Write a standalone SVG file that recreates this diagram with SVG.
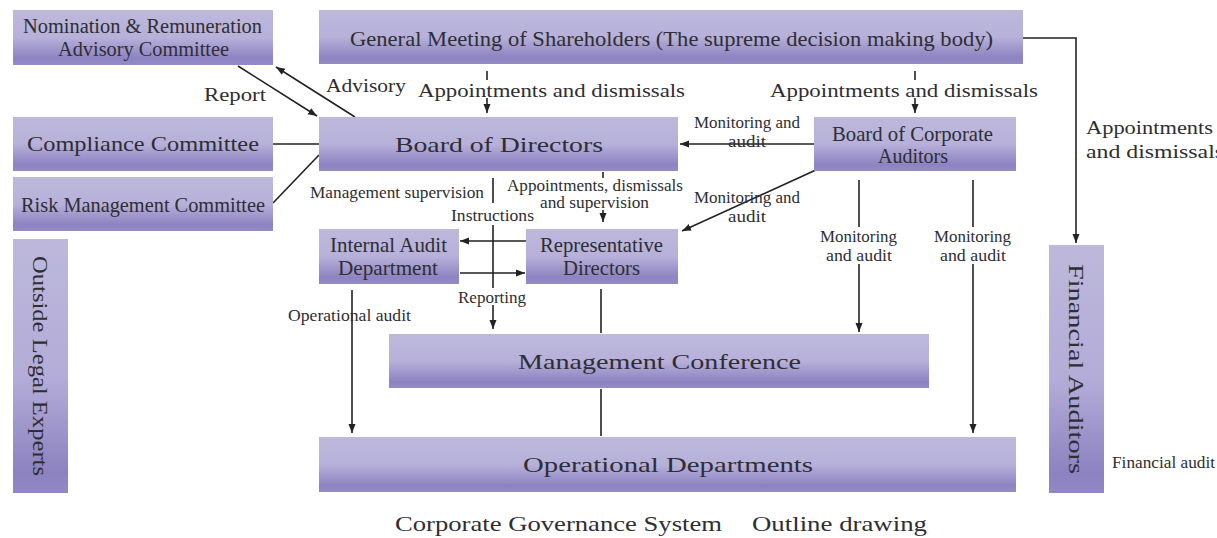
<svg xmlns="http://www.w3.org/2000/svg" width="1217" height="538" viewBox="0 0 1217 538">
<style>
.box{fill:url(#g);}
.vbox{fill:url(#gv);}
text{font-family:"Liberation Serif","DejaVu Serif",serif;fill:#2e2e33;}
.s{font-size:19px;}
.xs{font-size:17px;}
.ln{stroke:#222;stroke-width:1.6;fill:none;}
.ar{stroke:#222;stroke-width:1.6;fill:none;marker-end:url(#ah);}
</style>
<defs>
<linearGradient id="g" x1="0" y1="0" x2="0" y2="1">
<stop offset="0" stop-color="#bdb8db"/>
<stop offset="0.5" stop-color="#b7b1da"/>
<stop offset="0.88" stop-color="#8d83c1"/>
<stop offset="1" stop-color="#958bc5"/>
</linearGradient>
<linearGradient id="gv" x1="0" y1="0" x2="0" y2="1">
<stop offset="0" stop-color="#bdb8db"/>
<stop offset="0.55" stop-color="#b3acd8"/>
<stop offset="0.92" stop-color="#8c82c0"/>
<stop offset="1" stop-color="#9188c4"/>
</linearGradient>
<marker id="ah" markerUnits="userSpaceOnUse" markerWidth="10" markerHeight="10" refX="9" refY="5" orient="auto">
<path d="M0,1.5 L9,5 L0,8.5 Z" fill="#222"/>
</marker>
</defs>

<g id="connectors">
<line class="ar" x1="238" y1="66" x2="317" y2="116"/>
<line class="ar" x1="355" y1="117" x2="276" y2="67"/>
<line class="ln" x1="273" y1="144" x2="319" y2="144"/>
<line class="ln" x1="273" y1="203" x2="319" y2="155"/>
<line class="ln" x1="487" y1="71" x2="487" y2="80"/>
<line class="ar" x1="487" y1="98" x2="487" y2="113"/>
<line class="ln" x1="915" y1="71" x2="915" y2="80"/>
<line class="ar" x1="915" y1="98" x2="915" y2="113"/>
<polyline class="ar" points="1023,38 1076,38 1076,243"/>
<line class="ar" x1="814" y1="144" x2="680" y2="144"/>
<line class="ar" x1="818" y1="169" x2="682" y2="231"/>
<line class="ln" x1="859" y1="180" x2="859" y2="227"/>
<line class="ar" x1="859" y1="264" x2="859" y2="332"/>
<line class="ln" x1="973" y1="180" x2="973" y2="227"/>
<line class="ar" x1="973" y1="264" x2="973" y2="433"/>
<line class="ln" x1="493" y1="178" x2="493" y2="203"/>
<line class="ln" x1="493" y1="225" x2="493" y2="288"/>
<line class="ar" x1="493" y1="305" x2="493" y2="329"/>
<line class="ln" x1="603" y1="172" x2="603" y2="178"/>
<line class="ar" x1="603" y1="210" x2="603" y2="222"/>
<line class="ar" x1="526" y1="241" x2="460" y2="241"/>
<line class="ar" x1="460" y1="273" x2="525" y2="273"/>
<line class="ln" x1="601" y1="289" x2="601" y2="333"/>
<line class="ln" x1="601" y1="389" x2="601" y2="436"/>
<line class="ar" x1="352" y1="290" x2="352" y2="433"/>
</g>

<g id="labels">
<text class="s" x="326" y="92" textLength="80" lengthAdjust="spacingAndGlyphs">Advisory</text>
<text class="s" x="204" y="101" textLength="62" lengthAdjust="spacingAndGlyphs">Report</text>
<text class="s" x="418" y="97" textLength="267" lengthAdjust="spacingAndGlyphs">Appointments and dismissals</text>
<text class="s" x="770" y="97" textLength="268" lengthAdjust="spacingAndGlyphs">Appointments and dismissals</text>
<text class="s" x="1086" y="134" textLength="127" lengthAdjust="spacingAndGlyphs">Appointments</text>
<text class="s" x="1086" y="158" textLength="138" lengthAdjust="spacingAndGlyphs">and dismissals</text>
<text class="xs" x="694" y="128" textLength="106" lengthAdjust="spacingAndGlyphs">Monitoring and</text>
<text class="xs" x="728" y="147" textLength="38" lengthAdjust="spacingAndGlyphs">audit</text>
<text class="xs" x="694" y="203" textLength="106" lengthAdjust="spacingAndGlyphs">Monitoring and</text>
<text class="xs" x="728" y="222" textLength="38" lengthAdjust="spacingAndGlyphs">audit</text>
<text class="xs" x="820" y="242" textLength="77" lengthAdjust="spacingAndGlyphs">Monitoring</text>
<text class="xs" x="826" y="261" textLength="66" lengthAdjust="spacingAndGlyphs">and audit</text>
<text class="xs" x="934" y="242" textLength="77" lengthAdjust="spacingAndGlyphs">Monitoring</text>
<text class="xs" x="940" y="261" textLength="66" lengthAdjust="spacingAndGlyphs">and audit</text>
<text class="xs" x="310" y="198" textLength="174" lengthAdjust="spacingAndGlyphs">Management supervision</text>
<text class="xs" x="507" y="191" textLength="176" lengthAdjust="spacingAndGlyphs">Appointments, dismissals</text>
<text class="xs" x="540" y="208" textLength="109" lengthAdjust="spacingAndGlyphs">and supervision</text>
<text class="xs" x="451" y="221" textLength="83" lengthAdjust="spacingAndGlyphs">Instructions</text>
<text class="xs" x="458" y="303" textLength="68" lengthAdjust="spacingAndGlyphs">Reporting</text>
<text class="xs" x="288" y="321" textLength="123" lengthAdjust="spacingAndGlyphs">Operational audit</text>
<text class="xs" x="1112" y="468" textLength="103" lengthAdjust="spacingAndGlyphs">Financial audit</text>
<text x="395" y="531" font-size="21" textLength="327" lengthAdjust="spacingAndGlyphs">Corporate Governance System</text>
<text x="752" y="531" font-size="21" textLength="175" lengthAdjust="spacingAndGlyphs">Outline drawing</text>
</g>

<g id="nomination">
<rect class="box" x="13" y="10" width="260" height="55"/>
<text x="23" y="33" font-size="20" textLength="239" lengthAdjust="spacingAndGlyphs">Nomination &amp; Remuneration</text>
<text x="58" y="56" font-size="20" textLength="171" lengthAdjust="spacingAndGlyphs">Advisory Committee</text>
</g>
<g id="gms">
<rect class="box" x="319" y="10" width="704" height="54"/>
<text x="350" y="46" font-size="22" textLength="643" lengthAdjust="spacingAndGlyphs">General Meeting of Shareholders (The supreme decision making body)</text>
</g>
<g id="compliance">
<rect class="box" x="13" y="117" width="260" height="54"/>
<text x="27" y="151" font-size="22" textLength="232" lengthAdjust="spacingAndGlyphs">Compliance Committee</text>
</g>
<g id="risk">
<rect class="box" x="13" y="177" width="260" height="54"/>
<text x="21" y="212" font-size="22" textLength="244" lengthAdjust="spacingAndGlyphs">Risk Management Committee</text>
</g>
<g id="outside-legal">
<rect class="vbox" x="13" y="239" width="55" height="254"/>
<text transform="translate(33,256) rotate(90)" x="0" y="0" font-size="22" textLength="220" lengthAdjust="spacingAndGlyphs">Outside Legal Experts</text>
</g>
<g id="board">
<rect class="box" x="319" y="117" width="359" height="54"/>
<text x="395" y="152" font-size="22" textLength="208" lengthAdjust="spacingAndGlyphs">Board of Directors</text>
</g>
<g id="bca">
<rect class="box" x="814" y="117" width="202" height="54"/>
<text x="832" y="141" font-size="21" textLength="161" lengthAdjust="spacingAndGlyphs">Board of Corporate</text>
<text x="878" y="163" font-size="21" textLength="70" lengthAdjust="spacingAndGlyphs">Auditors</text>
</g>
<g id="internal-audit">
<rect class="box" x="319" y="229" width="140" height="55"/>
<text x="330" y="252" font-size="21" textLength="117" lengthAdjust="spacingAndGlyphs">Internal Audit</text>
<text x="338" y="275" font-size="21" textLength="100" lengthAdjust="spacingAndGlyphs">Department</text>
</g>
<g id="rep-directors">
<rect class="box" x="526" y="229" width="152" height="55"/>
<text x="540" y="252" font-size="21" textLength="123" lengthAdjust="spacingAndGlyphs">Representative</text>
<text x="563" y="275" font-size="21" textLength="77" lengthAdjust="spacingAndGlyphs">Directors</text>
</g>
<g id="mgmt-conf">
<rect class="box" x="389" y="334" width="540" height="54"/>
<text x="518" y="369" font-size="22" textLength="283" lengthAdjust="spacingAndGlyphs">Management Conference</text>
</g>
<g id="op-depts">
<rect class="box" x="319" y="437" width="697" height="55"/>
<text x="523" y="472" font-size="22" textLength="290" lengthAdjust="spacingAndGlyphs">Operational Departments</text>
</g>
<g id="financial-auditors">
<rect class="vbox" x="1049" y="245" width="55" height="248"/>
<text transform="translate(1069,264) rotate(90)" x="0" y="0" font-size="22" textLength="210" lengthAdjust="spacingAndGlyphs">Financial Auditors</text>
</g>
</svg>
